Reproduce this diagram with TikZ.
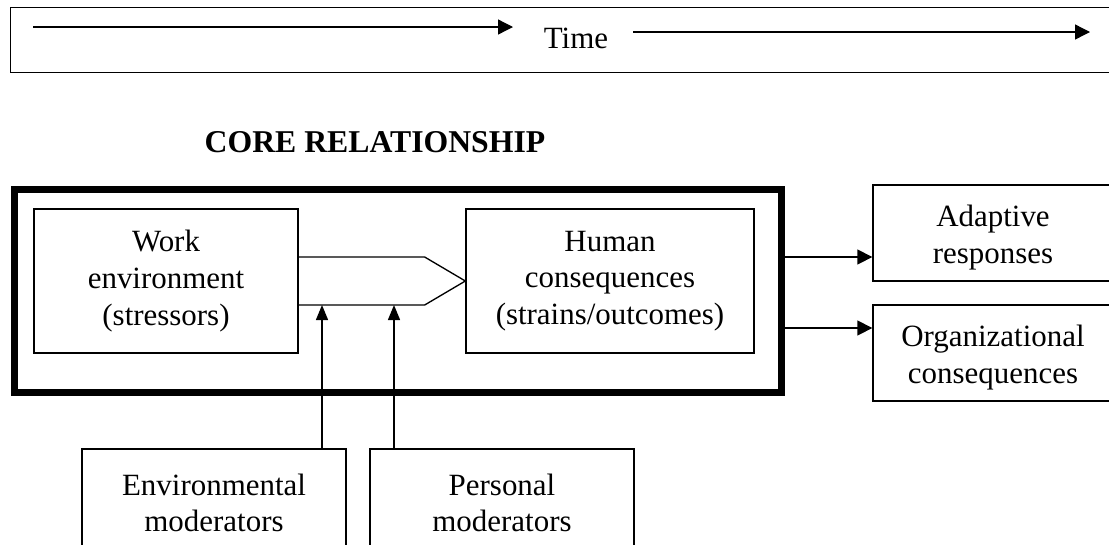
\documentclass[tikz,border=0pt]{standalone}
\usepackage{fontspec}
\setmainfont{Liberation Serif}
\usetikzlibrary{arrows.meta,calc}
\newcommand{\downstrut}{\rule{0pt}{23pt}}
\begin{document}
\begin{tikzpicture}[x=0.75pt,y=-0.75pt,
  thin/.style={line width=1pt},
  box/.style={draw, thin, align=center, inner sep=0pt,
    font=\fontsize{23.2}{27.5}\selectfont},
  modbox/.style={box, minimum width=198pt, minimum height=81pt},
  arr/.style={thin, -{Triangle[length=11.25pt,width=11.25pt]}},
  arrup/.style={thin, -{Triangle[length=11.25pt,width=9pt]}}]
\useasboundingbox (0,0) rectangle (1109,544);
\clip (0,0) rectangle (1109,544);

% time band
\node[draw, thin, minimum width=827.6pt, minimum height=48.75pt,
  anchor=north west, inner sep=0pt] (timebox) at (9.5,7) {};
\node[font=\fontsize{23.2}{27}\selectfont, anchor=base, inner sep=0pt]
  (time) at (576,48) {Time};
\coordinate (t1a) at (33,27);
\coordinate (t1b) at (513,27);
\coordinate (t2a) at (633,32);
\coordinate (t2b) at (1090,32);
\draw[arr] (t1a) -- (t1b);
\draw[arr] (t2a) -- (t2b);

% title
\node[font=\fontsize{23.8}{28}\selectfont\bfseries, anchor=base, inner sep=0pt]
  (title) at (375,152) {CORE RELATIONSHIP};

% core relationship frame
\node[draw, line width=5.6pt, minimum width=575.25pt, minimum height=152.6pt,
  anchor=north west, inner sep=0pt] (core) at (11,185.5) {};

\node[box, minimum width=198pt, minimum height=108pt] (work) at (166,281)
  {Work\\environment\\(stressors)};
\node[box, minimum width=216pt, minimum height=108pt] (human) at (610,281)
  {Human\\consequences\\(strains/outcomes)};

% link shape
\coordinate (pt) at ($(work.east)+(0,-24)$);
\coordinate (pb) at ($(work.east)+(0,24)$);
\draw[thin, line join=miter] (pt) -- ++(126,0) -- (human.west) -- ($(pb)+(126,0)$) -- (pb);

% outcomes
\node[box, minimum width=180pt, minimum height=72pt] (adapt) at (993,233)
  {\downstrut Adaptive\\responses};
\node[box, minimum width=180pt, minimum height=72pt] (org) at (993,353)
  {\downstrut Organizational\\consequences};
\coordinate (ua) at ($(adapt.west)+(0,24)$);
\coordinate (uo) at ($(org.west)+(0,-25)$);
\draw[arr] (core.east |- ua) -- (ua);
\draw[arr] (core.east |- uo) -- (uo);

% moderators
\node[modbox] (env) at (214,503) {Environmental\\moderators};
\node[modbox] (pers) at (502,503) {Personal\\moderators};
\coordinate (ea) at ($(env.north)+(108,0)$);
\coordinate (pa) at ($(pers.north)+(-108,0)$);
\draw[arrup] (ea) -- (ea |- pb);
\draw[arrup] (pa) -- (pa |- pb);
\end{tikzpicture}
\end{document}
